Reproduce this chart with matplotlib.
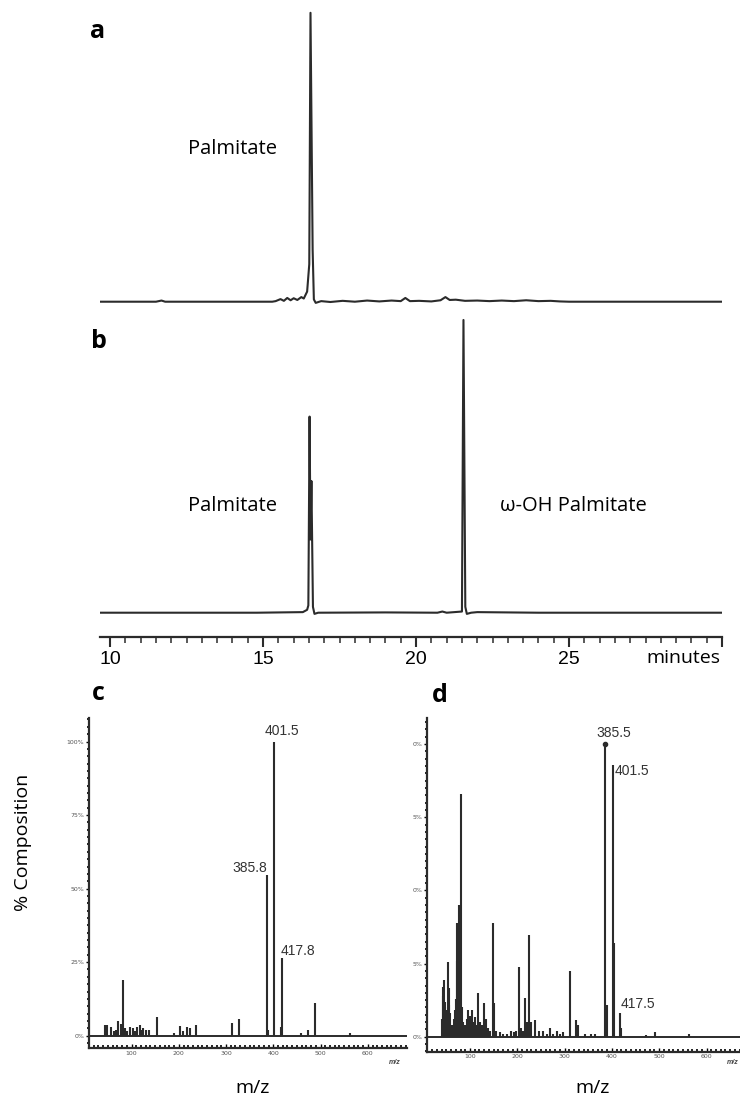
import matplotlib
matplotlib.use("Agg")
import matplotlib.pyplot as plt
from matplotlib.ticker import MultipleLocator

# ---- chromatogram traces (time in minutes, intensity in % of panel max) ----
time_a = [9.67, 11.5, 11.68, 11.8, 15.3, 15.41, 15.57, 15.68, 15.79, 15.9, 16.0,
          16.12, 16.25, 16.33, 16.44, 16.51, 16.55, 16.62, 16.66, 16.72, 16.9,
          17.2, 17.6, 18.0, 18.4, 18.8, 19.2, 19.5, 19.65, 19.8, 20.1, 20.5,
          20.8, 20.96, 21.1, 21.3, 21.6, 22.0, 22.4, 22.8, 23.2, 23.6, 24.0,
          24.4, 24.7, 25.0, 30.0]
int_a = [0, 0, 0.4, 0, 0, 0.2, 0.9, 0.3, 1.3, 0.5, 1.2,
         0.6, 1.6, 1.1, 3.5, 13, 100, 18, 0.8, -0.4, 0.2,
         -0.1, 0.3, 0.0, 0.4, 0.1, 0.4, 0.2, 1.3, 0.2, 0.3, 0.1,
         0.5, 1.6, 0.6, 0.7, 0.3, 0.4, 0.2, 0.4, 0.2, 0.5, 0.2,
         0.3, 0.1, 0.0, 0.0]

time_b = [9.67, 14.8, 16.3, 16.44, 16.48, 16.52, 16.55, 16.58, 16.63, 16.68,
          16.8, 19.0, 20.7, 20.86, 21.0, 21.5, 21.55, 21.61, 21.66, 21.8,
          22.0, 23.0, 24.0, 30.0]
int_b = [0, 0, 0.2, 1.0, 2.5, 67, 25, 45, 2.0, -0.4,
         0, 0.1, 0, 0.4, 0, 0.4, 100, 2.0, -0.4, 0,
         0.2, 0.1, 0, 0]

time_ticks = [10, 15, 20, 25, 30]
time_labels = ["10", "15", "20", "25", ""]

# ---- mass spectra (m/z, % composition) ----
mz_c = [43, 48, 57, 62, 68, 72, 77, 81, 86, 91, 97, 104, 108, 111, 118, 122,
        125, 131, 136, 153, 189, 203, 208, 218, 224, 237, 312, 327, 385.8,
        388, 401.5, 415.5, 417.8, 458, 474, 489, 562]
int_c = [3.6, 3.6, 3.1, 1.5, 2.0, 5.1, 4.0, 18.9, 2.5, 1.5, 2.8, 2.5, 1.5,
         3.0, 3.6, 2.0, 2.5, 1.8, 2.0, 6.5, 1.0, 3.3, 1.5, 3.0, 2.5, 3.5,
         4.4, 5.6, 54.6, 2.0, 100, 3.0, 26.3, 0.8, 2.0, 11.2, 1.0]

mz_d = [40, 42, 44, 45, 47, 48, 50, 51, 53, 55, 56, 58, 60, 62, 64, 66, 68,
        70, 72, 73, 75, 77, 79, 80, 82, 83, 86, 88, 90, 93, 96, 98, 100, 102,
        104, 106, 108, 111, 113, 115, 118, 120, 122, 126, 130, 132, 134, 138,
        142, 148, 150, 156, 163, 170, 178, 186, 192, 198, 204, 207, 212, 217,
        221, 225, 230, 237, 245, 255, 262, 269, 276, 283, 290, 297, 311, 325,
        329, 343, 355, 365, 385.5, 389, 401.5, 404, 417.5, 419, 473, 491, 563]
int_d = [6, 17, 14, 19.4, 10, 12, 9, 8, 25.6, 11, 16.5, 8, 3, 4, 3, 6, 9,
         13, 26, 39, 20, 45, 12, 83.1, 9, 10, 5, 4, 4, 6, 9.3, 5, 7, 6,
         9.3, 4, 5, 6.8, 3, 4, 15.1, 4, 5, 4, 11.6, 6, 6, 3,
         2, 39, 11.4, 2, 1.5, 1, 1, 2, 1.5, 2, 23.9, 3, 2, 13.3,
         5, 34.7, 5, 5.9, 2, 2, 1, 3, 1, 2, 1, 1.5, 22.4, 5.9,
         4, 1, 1, 0.8, 100, 10.8, 92.8, 32, 8.2, 3, 0.5, 1.5, 1]

pct_ticks = [0, 25, 50, 75, 100]
pct_labels_c = ["0%", "25%", "50%", "75%", "100%"]
pct_labels_d = ["0%", "5%", "0%", "5%", "0%"]   # left part cut off in the source
mz_ticks = [100, 200, 300, 400, 500, 600]

W, H = 740, 1105
INK = "#2b2b2b"
TXT_FONT = ["Open Sans", "DejaVu Sans"]
NUM_FONT = ["Liberation Sans", "DejaVu Sans"]

fig = plt.figure(figsize=(W / 100, H / 100), dpi=100)


def add_ax(left, top, right, bottom):
    # place an axes using pixel edges measured from the top-left corner
    return fig.add_axes([left / W, 1 - bottom / H, (right - left) / W, (bottom - top) / H])


def ftext(x, y, s, **kw):
    fig.text(x / W, 1 - y / H, s, **kw)


# ---- chromatograms a and b ----
ax_a = add_ax(100, 5, 722, 310)
ax_a.plot(time_a, int_a, color=INK, lw=1.5)
ax_a.set_xlim(9.67, 30)
ax_a.set_ylim(-2.87, 102.7)
ax_a.axis("off")

ax_b = add_ax(100, 315, 722, 620)
ax_b.plot(time_b, int_b, color=INK, lw=1.5)
ax_b.set_xlim(9.67, 30)
ax_b.set_ylim(-2.49, 101.7)
ax_b.axis("off")

# shared time axis
ax_t = add_ax(100, 600, 722, 637)
ax_t.set_xlim(9.67, 30)
for s in ["top", "left", "right"]:
    ax_t.spines[s].set_visible(False)
ax_t.spines["bottom"].set_linewidth(1.6)
ax_t.spines["bottom"].set_color(INK)
ax_t.set_yticks([])
ax_t.set_xticks(time_ticks, time_labels)
ax_t.xaxis.set_minor_locator(MultipleLocator(0.5))
ax_t.tick_params(axis="x", which="major", length=7, width=1.5, color=INK,
                 labelsize=14, pad=3)
ax_t.tick_params(axis="x", which="minor", length=4, width=1.1, color=INK)
for lab in ax_t.get_xticklabels():
    lab.set_family(NUM_FONT)
ax_t.patch.set_visible(False)

ftext(90, 38, "a", fontsize=18, fontweight="bold", family=TXT_FONT, va="baseline")
ftext(91, 348, "b", fontsize=18, fontweight="bold", family=TXT_FONT, va="baseline")
ftext(232, 149, "Palmitate", fontsize=14.5, family=TXT_FONT, ha="center", va="center")
ftext(232, 506, "Palmitate", fontsize=14.5, family=TXT_FONT, ha="center", va="center")
ftext(573, 506, "ω-OH Palmitate", fontsize=14.5, family=TXT_FONT, ha="center", va="center")
ftext(683, 658, "minutes", fontsize=14, family=TXT_FONT, ha="center", va="center")


# ---- mass spectra c and d ----
def spectrum(ax, mz, inten, ylo, yhi, ylabels):
    ax.vlines(mz, 0, inten, color=INK, lw=1.5)
    ax.axhline(0, color=INK, lw=1.4)
    ax.set_xlim(10, 683)
    ax.set_ylim(ylo, yhi)
    for s in ["top", "right"]:
        ax.spines[s].set_visible(False)
    for s in ["left", "bottom"]:
        ax.spines[s].set_linewidth(1.6)
        ax.spines[s].set_color(INK)
    ax.set_yticks(pct_ticks, ylabels)
    ax.yaxis.set_minor_locator(MultipleLocator(2.5))
    ax.tick_params(axis="y", which="major", length=2.5, width=1.0, labelsize=4.5,
                   labelcolor="#555555", pad=1)
    ax.tick_params(axis="y", which="minor", length=1.8, width=1.2)
    ax.set_xticks(mz_ticks, [str(v) for v in mz_ticks])
    ax.xaxis.set_minor_locator(MultipleLocator(10))
    ax.tick_params(axis="x", which="major", direction="in", length=3, width=1.0,
                   labelsize=4.5, labelcolor="#555555", pad=2)
    ax.tick_params(axis="x", which="minor", direction="in", length=2, width=1.2)
    ax.patch.set_visible(False)


ax_c = add_ax(89, 718, 407, 1048)
spectrum(ax_c, mz_c, int_c, -4.2, 108, pct_labels_c)
ax_c.text(401.5 + 17, 103.6, "401.5", fontsize=10, family=NUM_FONT, color="#333333",
          ha="center", va="center")
ax_c.text(385.8 + 1, 57.0, "385.8", fontsize=10, family=NUM_FONT, color="#333333",
          ha="right", va="center")
ax_c.text(417.8 - 3, 28.8, "417.8", fontsize=10, family=NUM_FONT, color="#333333",
          ha="left", va="center")

ax_d = add_ax(427.4, 718, 745.8, 1051.7)
spectrum(ax_d, mz_d, int_d, -5.1, 108.9, pct_labels_d)
ax_d.plot([385.5], [100], "o", color=INK, ms=3)
ax_d.text(385.5 + 19, 103.8, "385.5", fontsize=10, family=NUM_FONT, color="#333333",
          ha="center", va="center")
ax_d.text(401.5 + 4, 90.8, "401.5", fontsize=10, family=NUM_FONT, color="#333333",
          ha="left", va="center")
ax_d.text(417.5 + 1, 11.2, "417.5", fontsize=10, family=NUM_FONT, color="#333333",
          ha="left", va="center")

ftext(92, 700, "c", fontsize=18, fontweight="bold", family=TXT_FONT, va="baseline")
ftext(432, 702, "d", fontsize=18, fontweight="bold", family=TXT_FONT, va="baseline")
ftext(23, 842, "% Composition", fontsize=14, family=TXT_FONT, rotation=90,
      ha="center", va="center")
ftext(253, 1088, "m/z", fontsize=14, family=TXT_FONT, ha="center", va="center")
ftext(593, 1088, "m/z", fontsize=14, family=TXT_FONT, ha="center", va="center")
ftext(395, 1062, "m/z", fontsize=5, style="italic", fontweight="bold", color="#444444",
      family=NUM_FONT, ha="center", va="center")
ftext(733, 1062, "m/z", fontsize=5, style="italic", fontweight="bold", color="#444444",
      family=NUM_FONT, ha="center", va="center")

fig.savefig("out.png", dpi=100)
